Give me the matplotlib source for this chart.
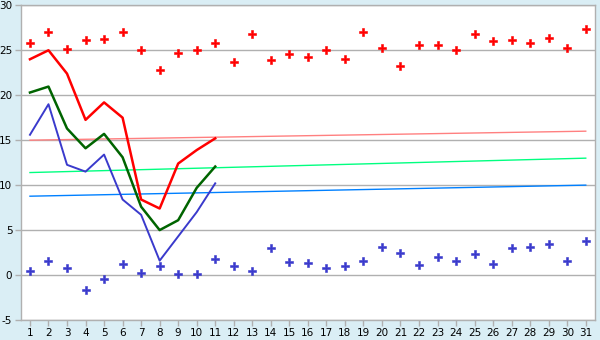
import matplotlib
matplotlib.use("Agg")
import matplotlib.pyplot as plt

plt.rcParams["axes.unicode_minus"] = False

days = list(range(1, 32))

max_temp = [25.8, 27.0, 25.1, 26.1, 26.2, 27.0, 25.0, 22.8, 24.7, 25.0,
            25.8, 23.7, 26.8, 23.9, 24.6, 24.3, 25.0, 24.0, 27.0, 25.3,
            23.2, 25.55, 25.55, 25.0, 26.8, 26.0, 26.1, 25.8, 26.4, 25.3, 27.4]
min_temp = [0.44, 1.56, 0.78, -1.67, -0.44, 1.22, 0.22, 1.0, 0.11, 0.11,
            1.78, 1.0, 0.44, 3.0, 1.44, 1.33, 0.78, 1.0, 1.56, 3.11,
            2.44, 1.11, 2.0, 1.56, 2.33, 1.22, 3.0, 3.11, 3.44, 1.56, 3.78]

line_days = list(range(1, 12))
red_line = [24.0, 25.0, 22.4, 17.26, 19.2, 17.5, 8.4, 7.4, 12.4, 13.9, 15.2]
green_line = [20.3, 20.96, 16.3, 14.1, 15.7, 13.1, 7.6, 5.0, 6.1, 9.7, 12.07]
blue_line = [15.6, 19.0, 12.26, 11.5, 13.4, 8.4, 6.7, 1.6, 4.3, 7.0, 10.2]

# trend lines: value at day 1 and day 31
trend_days = [1, 31]
red_trend = [15.0, 16.0]
green_trend = [11.4, 13.0]
blue_trend = [8.77, 10.0]

bg = "#daeef5"
grid_c = "#b0b0b0"

fig = plt.figure(figsize=(6, 3.4), dpi=100, facecolor=bg)
ax = fig.add_axes([0.0345, 0.0588, 0.9572, 0.9256])
ax.set_facecolor("white")

for v in range(-5, 31, 5):
    ax.axhline(v, color=grid_c, lw=1, zorder=1)

ax.plot(trend_days, red_trend, color="#ff8080", lw=1, zorder=2)
ax.plot(trend_days, green_trend, color="#00ff80", lw=1, zorder=2)
ax.plot(trend_days, blue_trend, color="#0080ff", lw=1, zorder=2)

ax.plot(line_days, red_line, color="#ff0000", lw=1.8, zorder=3)
ax.plot(line_days, green_line, color="#006400", lw=1.8, zorder=3)
ax.plot(line_days, blue_line, color="#3a3acc", lw=1.4, zorder=3)

ax.plot(days, max_temp, ls="none", marker="P", ms=5.2, color="#ff0000",
        markeredgewidth=0.4, zorder=4)
ax.plot(days, min_temp, ls="none", marker="P", ms=5.2, color="#3a3acc",
        markeredgewidth=0.4, zorder=4)

ax.set_xlim(0.5, 31.5)
ax.set_ylim(-5, 30)
ax.set_xticks(days)
ax.set_yticks(range(-5, 31, 5))
ax.tick_params(axis="both", colors=grid_c, labelcolor="black", labelsize=7.5,
               length=4, width=1, pad=2)
for s in ax.spines.values():
    s.set_color(grid_c)
    s.set_linewidth(1)

fig.savefig("out.png", dpi=100, facecolor=bg)
